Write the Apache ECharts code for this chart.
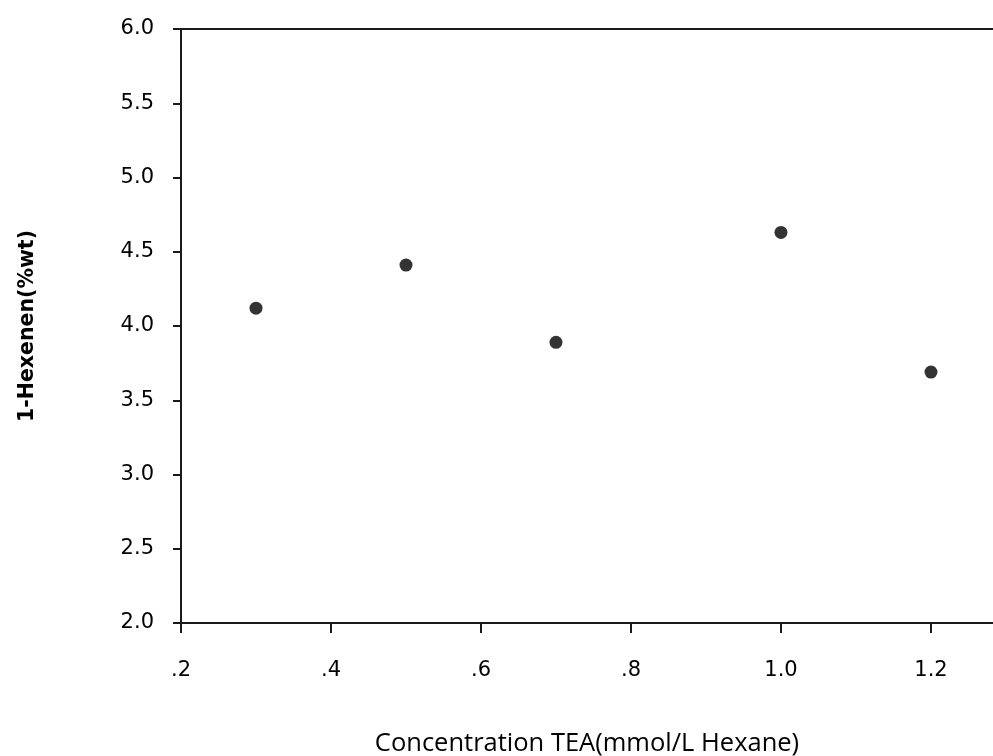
<!DOCTYPE html>
<html>
<head>
<meta charset="utf-8">
<script src="https://cdn.jsdelivr.net/npm/echarts@6/dist/echarts.min.js"></script>
<style>
  html, body { margin: 0; padding: 0; background: #fff; }
  #chart { width: 993px; height: 756px; }
</style>
</head>
<body>
<div id="chart"></div>
<script>
// TEA concentration (mmol/L hexane) and 1-hexene content (%wt)
const teaConcentration = [0.3, 0.5, 0.7, 1.0, 1.2];
const hexeneContent = [4.12, 4.41, 3.89, 4.63, 3.69];

const xTickLabels = ['.2', '.4', '.6', '.8', '1.0', '1.2'];
const yTickLabels = ['2.0', '2.5', '3.0', '3.5', '4.0', '4.5', '5.0', '5.5', '6.0'];

const X_MIN = 0.2, X_STEP = 0.2, X_MAX = 1.2827;
const Y_MIN = 2.0, Y_STEP = 0.5, Y_MAX = 6.0;

const axisColor = '#1a1a1a';
const labelFont = { fontFamily: 'DejaVu Sans', fontSize: 21, color: '#000' };

const chart = echarts.init(document.getElementById('chart'), null, { renderer: 'canvas' });

chart.setOption({
  animation: false,
  backgroundColor: '#fff',
  grid: { left: 181, right: 0, top: 29, bottom: 133, containLabel: false, outerBoundsMode: 'none' },
  xAxis: [
    {
      type: 'value',
      position: 'bottom',
      min: X_MIN,
      max: X_MAX,
      interval: X_STEP,
      splitLine: { show: false },
      axisLine: { show: true, onZero: false, lineStyle: { color: axisColor, width: 2 } },
      axisTick: { show: true, length: 10, lineStyle: { color: axisColor, width: 2 } },
      axisLabel: Object.assign({
        margin: 37,
        showMaxLabel: false,
        formatter: function (v) {
          const i = Math.round((v - X_MIN) / X_STEP);
          return Math.abs(X_MIN + i * X_STEP - v) < 1e-6 && xTickLabels[i] ? xTickLabels[i] : '';
        }
      }, labelFont),
      name: 'Concentration TEA(mmol/L Hexane)',
      nameLocation: 'middle',
      nameGap: 108,
      nameTextStyle: { fontFamily: 'Open Sans', fontSize: 25.5, color: '#000' }
    },
    {
      type: 'value',
      position: 'top',
      min: X_MIN,
      max: X_MAX,
      splitLine: { show: false },
      axisLine: { show: true, onZero: false, lineStyle: { color: axisColor, width: 2 } },
      axisTick: { show: false },
      axisLabel: { show: false }
    }
  ],
  yAxis: {
    type: 'value',
    min: Y_MIN,
    max: Y_MAX,
    interval: Y_STEP,
    splitLine: { show: false },
    axisLine: { show: true, onZero: false, lineStyle: { color: axisColor, width: 2 } },
    axisTick: { show: true, length: 8, lineStyle: { color: axisColor, width: 2 } },
    axisLabel: Object.assign({
      margin: 27,
      formatter: function (v) {
        const i = Math.round((v - Y_MIN) / Y_STEP);
        return yTickLabels[i] || '';
      }
    }, labelFont),
    name: '1-Hexenen(%wt)',
    nameLocation: 'middle',
    nameGap: 143,
    nameRotate: 90,
    nameTextStyle: { fontFamily: 'DejaVu Sans', fontWeight: 'bold', fontSize: 20.5, color: '#000' }
  },
  series: [{
    type: 'scatter',
    xAxisIndex: 0,
    data: teaConcentration.map((x, i) => [x, hexeneContent[i]]),
    symbol: 'circle',
    symbolSize: 13,
    itemStyle: { color: '#000' }
  }]
});
</script>
</body>
</html>
